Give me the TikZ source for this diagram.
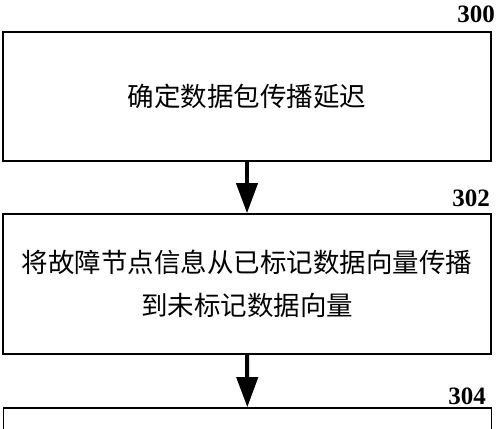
\documentclass[tikz,border=0pt]{standalone}
\usepackage{fontspec}
\setmainfont{Liberation Serif}
\newfontfamily\cjk{Noto Sans CJK SC}
\usetikzlibrary{arrows.meta}

\begin{document}
\begin{tikzpicture}[x=1pt, y=-1pt,
    stepbox/.style={draw, line width=1.6pt, minimum width=488pt, inner sep=0pt,
        align=center, font=\cjk\fontsize{26.5}{43}\selectfont},
    flow/.style={line width=4pt, -{Triangle[length=30pt, width=21pt]}},
    tag/.style={font=\bfseries\fontsize{25}{25}\selectfont}]
        \useasboundingbox (0, 0) rectangle (500, 428);
        \clip (0, 0) rectangle (500, 428);

        \node[stepbox, minimum height=129pt] (300) at (247, 96.5) {确定数据包传播延迟};
        \node[stepbox, minimum height=140pt] (302) at (247, 284) {将故障节点信息从已标记数据向量传播\\到未标记数据向量};
        \node[stepbox, minimum height=140pt] (304) at (247.5, 478) {};

        \node[tag] (t300) at (476, 14) {300};
        \node[tag] (t302) at (471, 198) {302};
        \node[tag] (t304) at (467, 396) {304};

        \draw[flow] (300) -- (302);
        \draw[flow] (302) -- (304);
    \end{tikzpicture}
\end{document}
